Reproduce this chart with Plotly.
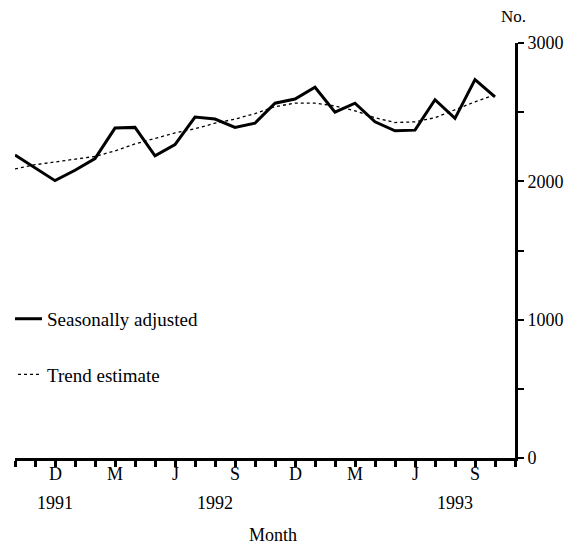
import plotly.graph_objects as go

# Monthly series, Oct 1991 .. Oct 1993
months = ["Oct 1991", "Nov 1991", "Dec 1991", "Jan 1992", "Feb 1992", "Mar 1992",
          "Apr 1992", "May 1992", "Jun 1992", "Jul 1992", "Aug 1992", "Sep 1992",
          "Oct 1992", "Nov 1992", "Dec 1992", "Jan 1993", "Feb 1993", "Mar 1993",
          "Apr 1993", "May 1993", "Jun 1993", "Jul 1993", "Aug 1993", "Sep 1993",
          "Oct 1993"]
seasonally_adjusted = [2190, 2100, 2005, 2080, 2165, 2385, 2390, 2185, 2265, 2465,
                       2450, 2390, 2420, 2565, 2595, 2680, 2500, 2565, 2430, 2365,
                       2370, 2590, 2455, 2735, 2610]
trend_estimate = [2090, 2120, 2140, 2160, 2180, 2220, 2270, 2310, 2350, 2380,
                  2420, 2450, 2490, 2540, 2565, 2565, 2545, 2510, 2460, 2425,
                  2430, 2460, 2520, 2575, 2625]

# month labels under the monthly ticks (Oct 1991 .. Nov 1993)
month_labels = ["D", "M", "J", "S", "D", "M", "J", "S"]
month_pos = [2, 5, 8, 11, 14, 17, 20, 23]
year_labels = ["1991", "1992", "1993"]
year_pos = [2, 10, 22]
y_ticks = [0, 1000, 2000, 3000]

x = list(range(len(months)))
font = "Liberation Serif, Times New Roman, serif"
txt = dict(family=font, size=18, color="black")

fig = go.Figure()
fig.add_trace(go.Scatter(x=x, y=seasonally_adjusted, mode="lines", name="Seasonally adjusted",
                         legendgroup="a", line=dict(color="black", width=3),
                         text=months, hovertemplate="%{text}: %{y}<extra></extra>"))
fig.add_trace(go.Scatter(x=x, y=trend_estimate, mode="lines", name="Trend estimate",
                         legendgroup="b", line=dict(color="black", width=1.3, dash="dot"),
                         text=months, hovertemplate="%{text}: %{y}<extra></extra>"))

fig.update_xaxes(range=[0, 25], tickmode="linear", tick0=0, dtick=1, showticklabels=False,
                 ticks="outside", ticklen=6, tickwidth=3, tickcolor="black",
                 showline=True, linewidth=3, linecolor="black", showgrid=False,
                 zeroline=False)
fig.update_yaxes(range=[0, 3000], side="right", tickvals=y_ticks, ticks="outside",
                 ticklen=6, tickwidth=2, tickcolor="black",
                 minor=dict(dtick=500, ticks="outside", ticklen=6, tickwidth=2, tickcolor="black"),
                 showline=True, linewidth=3, linecolor="black", showgrid=False,
                 zeroline=False, tickfont=txt)

for lab, pos in zip(month_labels, month_pos):
    fig.add_annotation(x=pos, y=-0.0386, xref="x", yref="paper", text=lab, showarrow=False,
                       xanchor="center", yanchor="middle", font=txt)
for yr, pos in zip(year_labels, year_pos):
    fig.add_annotation(x=pos, y=-0.108, xref="x", yref="paper", text=yr, showarrow=False,
                       xanchor="center", yanchor="middle", font=txt)
fig.add_annotation(x=0.516, y=-0.186, xref="paper", yref="paper", text="Month", showarrow=False,
                   xanchor="center", yanchor="middle", font=txt)
fig.add_annotation(x=0.996, y=1.063, xref="paper", yref="paper", text="No.", showarrow=False,
                   xanchor="center", yanchor="middle", font=dict(family=font, size=17, color="black"))

# page body adds an 8px offset, so the margins compensate for it
fig.update_layout(
    width=583, height=546,
    margin=dict(l=7, r=76, t=35, b=96),
    paper_bgcolor="white", plot_bgcolor="white",
    showlegend=True,
    legend=dict(x=0, y=0.381, xanchor="left", yanchor="top", indentation=-8,
                tracegroupgap=28, bgcolor="rgba(0,0,0,0)",
                font=dict(family=font, size=19, color="black")),
)

fig.write_html("out.html")
